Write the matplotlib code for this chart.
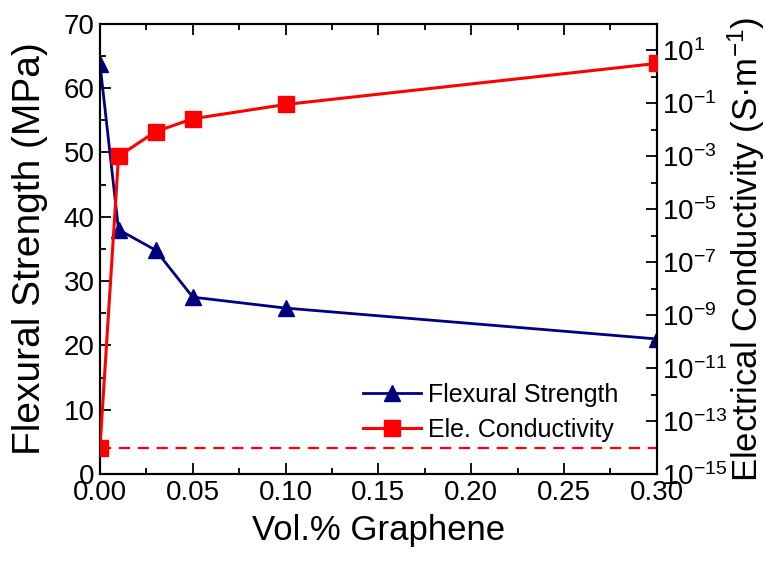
import math
import matplotlib.pyplot as plt
from matplotlib.ticker import MultipleLocator, NullFormatter, FixedLocator

plt.rcParams['font.family'] = ['Liberation Sans', 'DejaVu Sans']
plt.rcParams['mathtext.fontset'] = 'custom'
plt.rcParams['mathtext.rm'] = 'Liberation Sans'
plt.rcParams['mathtext.default'] = 'regular'

# data
graphene = [0.0, 0.01, 0.03, 0.05, 0.10, 0.30]
flexural = [63.8, 38.0, 34.8, 27.5, 25.8, 21.0]
conductivity = [1e-14, 1.0e-3, 8.5e-3, 2.6e-2, 9.0e-2, 3.2]
baseline = 1e-14

blue = '#000080'
red = '#ff0000'

fig = plt.figure(figsize=(7.66, 5.67), dpi=100)
ax1 = fig.add_axes([0.1305, 0.164, 0.727, 0.794])
ax2 = ax1.twinx()

l1, = ax1.plot(graphene, flexural, color=blue, lw=2, marker='^', ms=11,
               label='Flexural Strength', zorder=3)
l2, = ax2.plot(graphene, conductivity, color=red, lw=2.2, marker='s', ms=11,
               label='Ele. Conductivity', zorder=3)
ax2.axhline(baseline, color=red, lw=1.6, ls=(0, (5, 3.5)))

ax1.set_xlim(0, 0.30)
ax1.set_ylim(0, 70)
ax2.set_yscale('log')
ax2.set_ylim(1e-15, 1e2)

ax1.xaxis.set_major_locator(MultipleLocator(0.05))
ax1.xaxis.set_minor_locator(MultipleLocator(0.025))
ax1.yaxis.set_major_locator(MultipleLocator(10))
ax1.yaxis.set_minor_locator(MultipleLocator(5))
ax1.xaxis.set_major_formatter(plt.FuncFormatter(lambda v, p: '%.2f' % v))

major = [10.0 ** e for e in range(-15, 2, 2)]
minor = [10.0 ** e for e in range(-14, 3, 2)]
ax2.yaxis.set_major_locator(FixedLocator(major))
ax2.yaxis.set_minor_locator(FixedLocator(minor))
ax2.yaxis.set_minor_formatter(NullFormatter())
ax2.yaxis.set_major_formatter(plt.FuncFormatter(
    lambda v, p: r'$10^{%d}$' % round(math.log10(v))))

ax1.tick_params(axis='both', which='major', direction='in', length=8, width=1.3,
                labelsize=20, pad=4, top=True)
ax1.tick_params(axis='both', which='minor', direction='in', length=4, width=1.3,
                top=True)
ax2.tick_params(axis='y', which='major', direction='in', length=8, width=1.3,
                labelsize=20, pad=4)
ax2.tick_params(axis='y', which='minor', direction='in', length=4, width=1.3)

for ax in (ax1, ax2):
    for s in ax.spines.values():
        s.set_linewidth(1.5)

ax1.set_xlabel('Vol.% Graphene', fontsize=25, labelpad=6)
ax1.set_ylabel('Flexural Strength (MPa)', fontsize=28)
ax1.yaxis.set_label_coords(-0.093, 0.5)
ax2.set_ylabel('Electrical Conductivity (S·m$^{-1}$)', fontsize=25)
ax2.yaxis.set_label_coords(1.123, 0.5)

ax1.legend(handles=[l1, l2], loc='upper left', bbox_to_anchor=(0.455, 0.225),
           frameon=False, fontsize=18, handlelength=2.3, handletextpad=0.3,
           labelspacing=0.45, borderaxespad=0)

fig.savefig('out.png', dpi=100)
